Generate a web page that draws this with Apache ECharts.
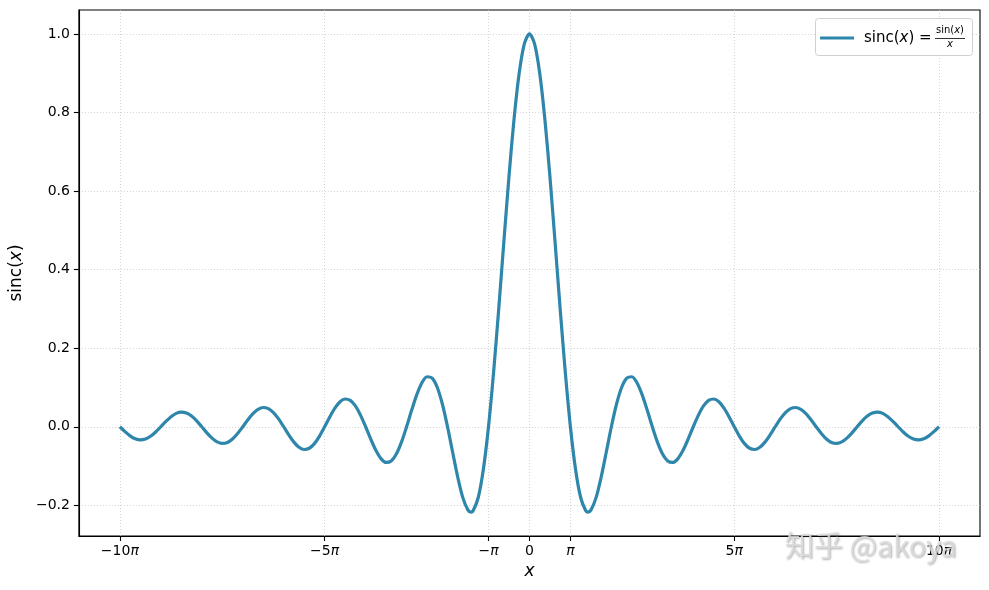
<!DOCTYPE html>
<html>
<head>
<meta charset="utf-8">
<script src="https://cdn.jsdelivr.net/npm/echarts@6/dist/echarts.min.js"></script>
<style>
html,body{margin:0;padding:0;background:#fff;}
#chart{width:989px;height:590px;}
</style>
</head>
<body>
<div id="chart"></div>
<script>
// x positions in units of pi
var xPi = [
  -10,-9.875,-9.75,-9.625,-9.5,-9.375,-9.25,-9.125,-9,-8.875,-8.75,-8.625,-8.5,-8.375,-8.25,-8.125,
  -8,-7.875,-7.75,-7.625,-7.5,-7.375,-7.25,-7.125,-7,-6.875,-6.75,-6.625,-6.5,-6.375,-6.25,-6.125,
  -6,-5.875,-5.75,-5.625,-5.5,-5.375,-5.25,-5.125,-5,-4.875,-4.75,-4.625,-4.5,-4.375,-4.25,-4.125,
  -4,-3.875,-3.75,-3.625,-3.5,-3.375,-3.25,-3.125,-3,-2.875,-2.75,-2.625,-2.5,-2.375,-2.25,-2.125,
  -2,-1.875,-1.75,-1.625,-1.5,-1.43,-1.375,-1.25,-1.125,-1,-0.875,-0.75,-0.625,-0.5,-0.375,-0.25,-0.125,
  0,
  0.125,0.25,0.375,0.5,0.625,0.75,0.875,1,1.125,1.25,1.375,1.43,1.5,1.625,1.75,1.875,2,
  2.125,2.25,2.375,2.5,2.625,2.75,2.875,3,3.125,3.25,3.375,3.5,3.625,3.75,3.875,4,
  4.125,4.25,4.375,4.5,4.625,4.75,4.875,5,5.125,5.25,5.375,5.5,5.625,5.75,5.875,6,
  6.125,6.25,6.375,6.5,6.625,6.75,6.875,7,7.125,7.25,7.375,7.5,7.625,7.75,7.875,8,
  8.125,8.25,8.375,8.5,8.625,8.75,8.875,9,9.125,9.25,9.375,9.5,9.625,9.75,9.875,10
];
var sincVals = [
  0,-0.0123,-0.0231,-0.0306,-0.0335,-0.0314,-0.0243,-0.0133,0,0.0137,0.0257,0.0341,0.0374,0.0351,0.0273,0.0150,
  0,-0.0155,-0.0290,-0.0386,-0.0424,-0.0399,-0.0310,-0.0171,0,0.0177,0.0333,0.0444,0.0490,0.0461,0.0360,0.0199,
  0,-0.0207,-0.0391,-0.0523,-0.0579,-0.0547,-0.0429,-0.0238,0,0.0250,0.0474,0.0636,0.0707,0.0672,0.0530,0.0295,
  0,-0.0314,-0.0600,-0.0811,-0.0909,-0.0871,-0.0693,-0.0390,0,0.0424,0.0818,0.1120,0.1273,0.1238,0.1000,0.0573,
  0,-0.0650,-0.1286,-0.1810,-0.2122,-0.2172,-0.2139,-0.1801,-0.1083,0,0.1392,0.3001,0.4705,0.6366,0.7842,0.9003,0.9745,
  1,
  0.9745,0.9003,0.7842,0.6366,0.4705,0.3001,0.1392,0,-0.1083,-0.1801,-0.2139,-0.2172,-0.2122,-0.1810,-0.1286,-0.0650,0,
  0.0573,0.1000,0.1238,0.1273,0.1120,0.0818,0.0424,0,-0.0390,-0.0693,-0.0871,-0.0909,-0.0811,-0.0600,-0.0314,0,
  0.0295,0.0530,0.0672,0.0707,0.0636,0.0474,0.0250,0,-0.0238,-0.0429,-0.0547,-0.0579,-0.0523,-0.0391,-0.0207,0,
  0.0199,0.0360,0.0461,0.0490,0.0444,0.0333,0.0177,0,-0.0171,-0.0310,-0.0399,-0.0424,-0.0386,-0.0290,-0.0155,0,
  0.0150,0.0273,0.0351,0.0374,0.0341,0.0257,0.0137,0,-0.0133,-0.0243,-0.0314,-0.0335,-0.0306,-0.0231,-0.0123,0
];
var xTicks = [-10,-5,-1,0,1,5,10];
var xTickLabels = ['−10','−5','−','0','','5','10'];
var yTicks = [-0.2,0,0.2,0.4,0.6,0.8,1.0];
var yTickLabels = ['−0.2','0.0','0.2','0.4','0.6','0.8','1.0'];

var LINE = '#2E86AB';
var FONT = 'DejaVu Sans';
var data = xPi.map(function(x,i){return [x, sincVals[i]];});

var chart = echarts.init(document.getElementById('chart'), null, {renderer:'canvas'});
var gridStyle = {show:true, lineStyle:{color:'#c8c8c8', type:[1,2], width:0.8}};
chart.setOption({
  animation:false,
  backgroundColor:'#fff',
  grid:{left:77, top:10, width:903, height:526, containLabel:false, show:true, borderColor:'#000', borderWidth:1.1, backgroundColor:'transparent'},
  xAxis:{
    type:'value', min:-11, max:11,
    axisLine:{show:true, onZero:false, lineStyle:{color:'#000', width:1.1}},
    axisTick:{show:true, length:5, lineStyle:{color:'#000', width:1.1}, customValues:xTicks},
    splitLine:Object.assign({customValues:xTicks}, gridStyle),
    axisLabel:{
      customValues:xTicks, margin:8, color:'#000', fontFamily:FONT, fontSize:14,
      formatter:function(v){
        var i = xTicks.indexOf(v);
        if(v===0) return '{n|0}';
        return '{n|'+xTickLabels[i]+'}{p|π}';
      },
      rich:{n:{fontFamily:FONT,fontSize:14,color:'#000'},p:{fontFamily:FONT,fontStyle:'italic',fontSize:14,color:'#000'}}
    },
    name:'{i|x}', nameLocation:'middle', nameGap:27,
    nameTextStyle:{rich:{i:{fontFamily:FONT,fontStyle:'italic',fontSize:17,color:'#000'}}}
  },
  yAxis:{
    type:'value', min:-0.2781, max:1.0609,
    axisLine:{show:true, onZero:false, lineStyle:{color:'#000', width:1.1}},
    axisTick:{show:true, length:5, lineStyle:{color:'#000', width:1.1}, customValues:yTicks},
    splitLine:Object.assign({customValues:yTicks}, gridStyle),
    axisLabel:{
      customValues:yTicks, margin:9, color:'#000', fontFamily:FONT, fontSize:14,
      formatter:function(v){
        var i = -1;
        for(var k=0;k<yTicks.length;k++){ if(Math.abs(yTicks[k]-v)<1e-9) i=k; }
        return i>=0 ? yTickLabels[i] : '';
      }
    },
    name:'{a|sinc(}{i|x}{a|)}', nameLocation:'middle', nameRotate:90, nameGap:53,
    nameTextStyle:{rich:{
      a:{fontFamily:FONT,fontSize:17,color:'#000'},
      i:{fontFamily:FONT,fontStyle:'italic',fontSize:17,color:'#000'}
    }}
  },
  series:[{
    type:'line', data:data, showSymbol:false, smooth:0.3,
    lineStyle:{color:LINE, width:3.2}, z:3
  }],
  graphic:[
    {type:'rect', shape:{x:815.5, y:18.5, width:157, height:37, r:3}, style:{fill:'rgba(255,255,255,0.85)', stroke:'#d0d0d0', lineWidth:1}, z:10},
    {type:'line', shape:{x1:820, y1:38, x2:854, y2:38}, style:{stroke:LINE, lineWidth:3.2}, z:11},
    {type:'text', x:864, y:38, z:11, style:{
      text:'{a|sinc(}{i|x}{a|) = }', verticalAlign:'middle', align:'left',
      rich:{a:{fontFamily:FONT,fontSize:15,fill:'#000'}, i:{fontFamily:FONT,fontStyle:'italic',fontSize:15,fill:'#000'}}
    }},
    {type:'text', x:950, y:30, z:11, style:{
      text:'{a|sin(}{i|x}{a|)}', verticalAlign:'middle', align:'center',
      rich:{a:{fontFamily:FONT,fontSize:10,fill:'#000'}, i:{fontFamily:FONT,fontStyle:'italic',fontSize:10,fill:'#000'}}
    }},
    {type:'line', shape:{x1:935, y1:38.5, x2:965, y2:38.5}, style:{stroke:'#000', lineWidth:0.8}, z:11},
    {type:'text', x:950, y:44, z:11, style:{
      text:'x', verticalAlign:'middle', align:'center', fontFamily:FONT, fontStyle:'italic', fontSize:10, fill:'#000'
    }},
    {type:'text', x:785, y:546, z:20, style:{
      text:'知乎 @akoya', verticalAlign:'middle', align:'left',
      fontFamily:'Noto Sans CJK SC', fontSize:29, fill:'rgba(220,220,220,0.85)',
      textShadowColor:'rgba(60,60,60,0.45)', textShadowBlur:2, textShadowOffsetX:1, textShadowOffsetY:1
    }}
  ]
});
</script>
</body>
</html>
